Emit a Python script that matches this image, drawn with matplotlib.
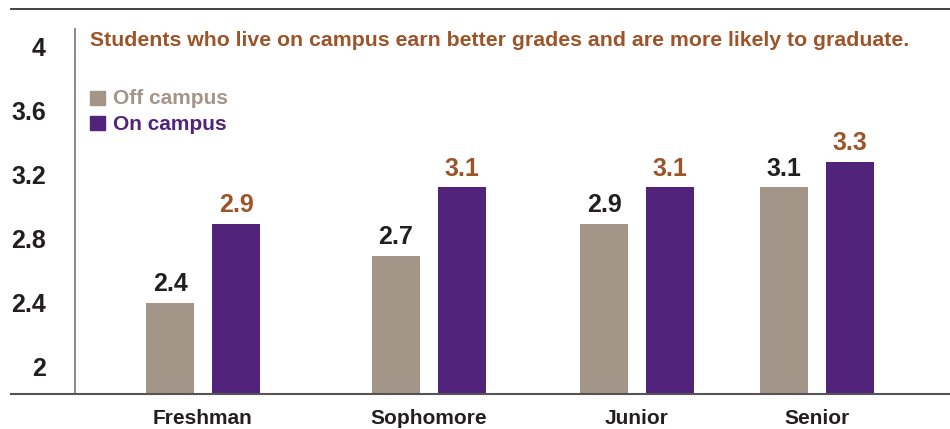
import matplotlib.pyplot as plt
from matplotlib.lines import Line2D
from matplotlib.patches import Rectangle

# du lieu doc tu hinh
categories = ['Freshman', 'Sophomore', 'Junior', 'Senior']
off_campus = [2.40, 2.69, 2.89, 3.12]
on_campus = [2.89, 3.12, 3.12, 3.28]
y_ticks = [2, 2.4, 2.8, 3.2, 3.6, 4]
y_tick_labels = ['2', '2.4', '2.8', '3.2', '3.6', '4']
series_names = ['Off campus', 'On campus']
title = 'Students who live on campus earn better grades and are more likely to graduate.'

# bo cuc (toa do theo pixel cua hinh 950x429)
W, H = 950, 429
group_x = [203, 429, 637, 817]
bar_w = 48
offset = 33

c_off = '#A39588'
c_on = '#51237A'
c_brown = '#9C5428'
c_dark = '#231F20'

plt.rcParams['font.family'] = ['Liberation Sans', 'DejaVu Sans']
plt.rcParams['font.weight'] = 'bold'

fig = plt.figure(figsize=(W / 100, H / 100), dpi=100)
ax = fig.add_axes([75 / W, (H - 394) / H, (W - 75) / W, (394 - 29) / H])

x_off = [x - offset for x in group_x]
x_on = [x + offset for x in group_x]
ax.bar(x_off, off_campus, width=bar_w, color=c_off)
ax.bar(x_on, on_campus, width=bar_w, color=c_on)

ax.set_xlim(75, W)
ax.set_ylim(1.83, 4.11)

# nhan gia tri tren cot
for x, v in zip(x_off, off_campus):
    ax.annotate(f'{v:.1f}', (x, v), xytext=(0, 5), textcoords='offset points',
                ha='center', va='bottom', fontsize=18, color=c_dark, fontweight='bold')
for x, v in zip(x_on, on_campus):
    ax.annotate(f'{v:.1f}', (x, v), xytext=(0, 5), textcoords='offset points',
                ha='center', va='bottom', fontsize=18, color=c_brown, fontweight='bold')

ax.set_yticks(y_ticks)
ax.set_yticklabels(y_tick_labels, fontsize=18, color=c_dark, fontweight='bold')
ax.set_xticks(group_x)
ax.set_xticklabels(categories, fontsize=15, color=c_dark, fontweight='bold')
ax.tick_params(axis='y', length=0, pad=21)
ax.tick_params(axis='x', length=0, pad=11)

for s in ['top', 'right', 'bottom']:
    ax.spines[s].set_visible(False)
ax.spines['left'].set_color('#808080')
ax.spines['left'].set_linewidth(1.3)

# duong ke ngang tren va duoi
fig.add_artist(Line2D([11 / W, 1], [(H - 394) / H] * 2, color='#555555', lw=1.5))
fig.add_artist(Line2D([11 / W, 1], [(H - 9) / H] * 2, color='#333333', lw=1.3))

fig.text(90 / W, (H - 41) / H, title, fontsize=15.3, color=c_brown,
         fontweight='bold', ha='left', va='center')

# chu thich
for i, (name, col) in enumerate(zip(series_names, [c_off, c_on])):
    yc = 98 + i * 25
    fig.add_artist(Rectangle((90 / W, (H - yc - 7) / H), 15 / W, 14 / H,
                             color=col, transform=fig.transFigure))
    fig.text(113 / W, (H - yc - 1) / H, name, fontsize=15, color=col,
             fontweight='bold', ha='left', va='center')

fig.savefig('out.png', dpi=100)
